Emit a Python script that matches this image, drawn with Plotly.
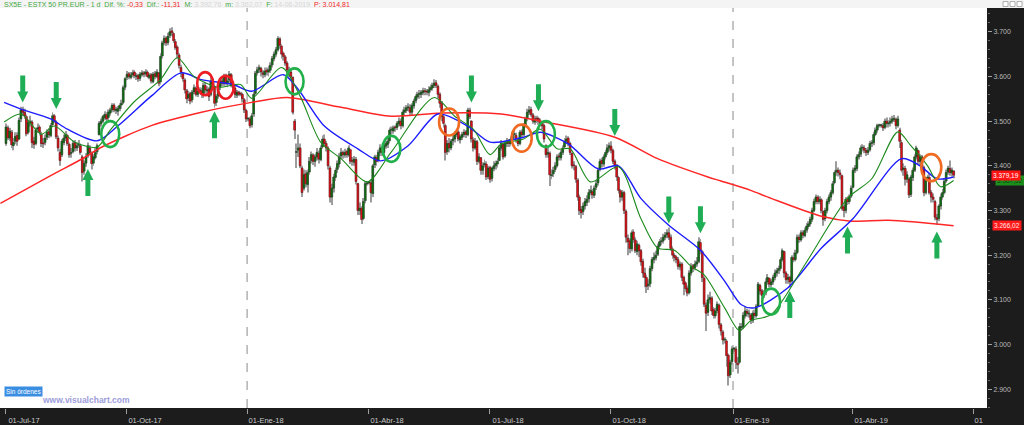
import pandas as pd
import plotly.graph_objects as go

# ---------------- daily OHLC (one line per week, Mon..Fri), from 2017-07-03 ----------------
first_day = "2017-07-03"

closes = [
    3487, 3463, 3478, 3447, 3452,  3466, 3455, 3502, 3525, 3520,  3512, 3472, 3497, 3500, 3452,
    3448, 3480, 3485, 3475, 3450,  3449, 3462, 3475, 3470, 3490,  3512, 3500, 3465, 3440, 3412,
    3455, 3462, 3470, 3450, 3425,  3430, 3450, 3440, 3445, 3448,  3430, 3385, 3405, 3420, 3445,
    3430, 3405, 3420, 3430, 3445,  3495, 3500, 3510, 3515, 3505,  3520, 3525, 3535, 3525, 3525,
    3528, 3535, 3540, 3575, 3595,  3605, 3600, 3603, 3608, 3602,  3600, 3595, 3605, 3608, 3605,
    3610, 3600, 3603, 3590, 3605,  3600, 3610, 3585, 3645, 3675,  3685, 3675, 3690, 3700, 3698,
    3680, 3665, 3650, 3625, 3610,  3595, 3570, 3550, 3560, 3545,  3565, 3575, 3560, 3567, 3570,
    3560, 3580, 3570, 3570, 3555,  3590, 3580, 3540, 3555, 3575,  3590, 3585, 3600, 3585, 3590,
    3605, 3580, 3575, 3560, 3565,  3560, 3560, 3550, 3525, 3505,  3505, 3490, 3512, 3560, 3607,
    3615, 3620, 3610, 3605, 3612,  3610, 3615, 3625, 3640, 3650,  3660, 3685, 3670, 3650, 3645,
    3630, 3615, 3610, 3600, 3520,  3480, 3430, 3440, 3400, 3340,  3380, 3360, 3385, 3410, 3425,
    3410, 3420, 3430, 3415, 3440,  3460, 3450, 3440, 3400, 3330,  3350, 3375, 3390, 3405, 3420,
    3430, 3425, 3430, 3425, 3440,  3410, 3410, 3415, 3365, 3300,  3305, 3280, 3320, 3360, 3362,
    3362, 3340, 3400, 3420, 3410,  3430, 3440, 3430, 3445, 3450,  3455, 3480, 3480, 3485, 3485,
    3495, 3500, 3490, 3520, 3525,  3530, 3530, 3520, 3535, 3545,  3555, 3560, 3560, 3565, 3568,
    3566, 3565, 3570, 3575, 3580,  3585, 3580, 3560, 3540, 3510,  3495, 3430, 3450, 3440, 3455,
    3460, 3470, 3475, 3460, 3465,  3470, 3475, 3470, 3525, 3510,  3460, 3440, 3455, 3410, 3420,
    3390, 3400, 3405, 3375, 3395,  3370, 3395, 3400, 3405, 3410,  3440, 3450, 3420, 3450, 3455,
    3450, 3460, 3470, 3470, 3460,  3450, 3475, 3470, 3490, 3505,  3520, 3525, 3515, 3500, 3505,
    3505, 3500, 3495, 3490, 3460,  3425, 3430, 3380, 3380, 3390,  3400, 3420, 3420, 3430, 3440,
    3455, 3460, 3450, 3430, 3400,  3400, 3370, 3330, 3300, 3295,  3310, 3320, 3325, 3340, 3345,
    3335, 3350, 3360, 3390, 3410,  3405, 3420, 3430, 3440, 3445,  3435, 3410, 3400, 3375, 3345,
    3330, 3340, 3300, 3240, 3230,  3215, 3250, 3235, 3210, 3225,  3210, 3185, 3160, 3150, 3130,
    3135, 3170, 3190, 3195, 3200,  3220, 3230, 3232, 3240, 3245,  3250, 3240, 3215, 3200, 3195,
    3190, 3175, 3180, 3150, 3135,  3125, 3115, 3160, 3175, 3170,  3180, 3185, 3230, 3210, 3150,
    3090, 3070, 3100, 3105, 3075,  3065, 3075, 3090, 3045, 3030,  3010, 3010, 2975, 2930, 2960,
    2990, 2990, 2960, 2955, 3040,  3040, 3065, 3075, 3070, 3070,  3055, 3070, 3065, 3085, 3135,
    3120, 3110, 3115, 3140, 3150,  3135, 3140, 3150, 3160, 3165,  3170, 3190, 3210, 3160, 3145,
    3150, 3140, 3195, 3190, 3205,  3240, 3235, 3250, 3245, 3255,  3265, 3270, 3280, 3300, 3320,
    3330, 3320, 3325, 3300, 3280,  3300, 3320, 3330, 3340, 3360,  3385, 3390, 3385, 3380, 3305,
    3300, 3325, 3320, 3330, 3350,  3390, 3395, 3420, 3425, 3440,  3440, 3435, 3430, 3435, 3450,
    3450, 3470, 3480, 3490, 3490,  3490, 3485, 3500, 3495, 3495,  3500, 3505, 3505, 3490, 3505,
    3455, 3390, 3395, 3370, 3380,  3335, 3375, 3390, 3420, 3440,  3410, 3420, 3395, 3340, 3370,
    3375, 3340, 3330, 3325, 3285,  3280, 3310, 3330, 3340, 3365,  3385, 3395, 3385, 3390.5, 3379.19,
]

opens = [
    3450, 3485, 3462, 3475, 3445,  3455, 3468, 3460, 3505, 3526,  3520, 3510, 3475, 3496, 3498,
    3455, 3450, 3482, 3487, 3470,  3450, 3452, 3464, 3476, 3468,  3492, 3512, 3498, 3462, 3430,
    3425, 3452, 3462, 3468, 3448,  3428, 3432, 3452, 3440, 3446,  3445, 3420, 3388, 3406, 3422,
    3440, 3428, 3406, 3418, 3432,  3470, 3494, 3500, 3508, 3514,  3508, 3518, 3526, 3536, 3524,
    3522, 3528, 3536, 3542, 3576,  3598, 3606, 3598, 3604, 3610,  3600, 3602, 3596, 3604, 3608,
    3606, 3610, 3598, 3604, 3588,  3606, 3600, 3608, 3588, 3646,  3676, 3686, 3676, 3692, 3702,
    3696, 3678, 3666, 3648, 3620,  3606, 3592, 3568, 3552, 3562,  3548, 3566, 3574, 3560, 3566,
    3568, 3560, 3580, 3568, 3572,  3560, 3590, 3578, 3542, 3556,  3576, 3590, 3584, 3602, 3584,
    3592, 3604, 3580, 3574, 3558,  3565, 3562, 3560, 3548, 3524,  3505, 3505, 3492, 3516, 3562,
    3608, 3616, 3618, 3608, 3604,  3614, 3610, 3614, 3626, 3640,  3650, 3660, 3684, 3668, 3652,
    3644, 3630, 3614, 3610, 3598,  3500, 3430, 3435, 3440, 3395,  3350, 3382, 3358, 3386, 3412,
    3424, 3410, 3420, 3428, 3414,  3442, 3460, 3450, 3440, 3395,  3330, 3350, 3374, 3392, 3404,
    3422, 3430, 3424, 3432, 3424,  3436, 3412, 3408, 3414, 3360,  3300, 3305, 3282, 3322, 3360,
    3362, 3362, 3338, 3402, 3418,  3412, 3430, 3440, 3430, 3444,  3448, 3456, 3480, 3478, 3486,
    3486, 3494, 3500, 3490, 3520,  3524, 3530, 3530, 3520, 3534,  3546, 3554, 3560, 3560, 3564,
    3568, 3566, 3564, 3570, 3574,  3580, 3586, 3578, 3560, 3540,  3510, 3490, 3432, 3450, 3440,
    3456, 3460, 3470, 3476, 3458,  3464, 3470, 3476, 3470, 3524,  3500, 3458, 3440, 3454, 3410,
    3418, 3390, 3402, 3404, 3376,  3396, 3372, 3394, 3400, 3404,  3412, 3440, 3448, 3422, 3450,
    3454, 3450, 3460, 3470, 3468,  3458, 3450, 3476, 3470, 3490,  3506, 3520, 3526, 3514, 3498,
    3506, 3506, 3500, 3496, 3490,  3445, 3426, 3428, 3378, 3382,  3392, 3400, 3422, 3418, 3430,
    3442, 3455, 3462, 3450, 3428,  3402, 3398, 3368, 3330, 3302,  3298, 3310, 3318, 3326, 3340,
    3342, 3334, 3352, 3362, 3392,  3412, 3404, 3420, 3430, 3440,  3444, 3434, 3410, 3400, 3374,
    3344, 3330, 3340, 3298, 3238,  3232, 3214, 3252, 3234, 3208,  3222, 3210, 3186, 3160, 3150,
    3132, 3136, 3170, 3190, 3194,  3202, 3220, 3230, 3232, 3240,  3246, 3250, 3240, 3214, 3200,
    3196, 3190, 3174, 3180, 3150,  3138, 3126, 3116, 3160, 3176,  3172, 3180, 3186, 3228, 3208,
    3148, 3088, 3072, 3100, 3104,  3078, 3064, 3076, 3088, 3044,  3028, 3010, 3008, 2976, 2932,
    2962, 2990, 2990, 2958, 2960,  3038, 3040, 3064, 3074, 3068,  3066, 3054, 3070, 3064, 3086,
    3132, 3120, 3110, 3116, 3140,  3148, 3134, 3140, 3150, 3160,  3166, 3170, 3190, 3208, 3160,
    3146, 3150, 3142, 3194, 3190,  3206, 3240, 3234, 3250, 3244,  3256, 3264, 3270, 3280, 3300,
    3320, 3330, 3320, 3324, 3298,  3282, 3300, 3320, 3330, 3340,  3362, 3386, 3390, 3384, 3378,
    3308, 3300, 3326, 3320, 3332,  3352, 3390, 3394, 3420, 3426,  3440, 3440, 3434, 3430, 3436,
    3450, 3452, 3470, 3480, 3490,  3490, 3490, 3486, 3500, 3494,  3496, 3500, 3504, 3504, 3490,
    3480, 3452, 3392, 3394, 3370,  3370, 3336, 3374, 3390, 3420,  3434, 3410, 3420, 3396, 3340,
    3372, 3374, 3340, 3330, 3320,  3284, 3282, 3310, 3330, 3340,  3366, 3386, 3394, 3384, 3388,
]

highs = [
    3495, 3490, 3485, 3480, 3462,  3475, 3475, 3508, 3532, 3532,  3528, 3515, 3503, 3512, 3502,
    3465, 3486, 3495, 3492, 3476,  3462, 3470, 3482, 3484, 3496,  3520, 3516, 3502, 3468, 3438,
    3460, 3470, 3478, 3472, 3452,  3440, 3456, 3458, 3452, 3458,  3450, 3425, 3412, 3428, 3452,
    3446, 3432, 3426, 3440, 3450,  3500, 3506, 3514, 3522, 3520,  3526, 3530, 3540, 3540, 3532,
    3534, 3540, 3548, 3580, 3598,  3612, 3610, 3610, 3615, 3614,  3608, 3606, 3610, 3614, 3612,
    3616, 3614, 3608, 3608, 3610,  3612, 3616, 3610, 3652, 3680,  3692, 3690, 3698, 3708, 3710,
    3700, 3684, 3670, 3652, 3626,  3610, 3596, 3572, 3568, 3566,  3570, 3582, 3578, 3572, 3576,
    3575, 3586, 3588, 3578, 3576,  3600, 3595, 3582, 3560, 3580,  3596, 3596, 3606, 3606, 3598,
    3612, 3608, 3586, 3580, 3570,  3568, 3566, 3564, 3552, 3528,  3508, 3510, 3518, 3566, 3612,
    3622, 3626, 3622, 3614, 3620,  3620, 3624, 3632, 3646, 3656,  3666, 3690, 3688, 3672, 3656,
    3648, 3634, 3622, 3615, 3600,  3505, 3450, 3470, 3450, 3400,  3392, 3390, 3392, 3420, 3432,
    3428, 3426, 3440, 3434, 3446,  3468, 3470, 3456, 3444, 3400,  3360, 3382, 3396, 3412, 3428,
    3440, 3434, 3438, 3436, 3446,  3438, 3420, 3422, 3420, 3362,  3318, 3310, 3328, 3366, 3366,
    3366, 3370, 3404, 3425, 3424,  3436, 3448, 3444, 3450, 3456,  3462, 3486, 3488, 3490, 3490,
    3500, 3508, 3506, 3526, 3532,  3536, 3540, 3538, 3540, 3550,  3560, 3566, 3570, 3570, 3575,
    3574, 3572, 3578, 3582, 3586,  3594, 3592, 3582, 3564, 3545,  3515, 3494, 3458, 3462, 3460,
    3468, 3478, 3482, 3480, 3470,  3476, 3482, 3480, 3530, 3530,  3502, 3464, 3462, 3458, 3428,
    3420, 3408, 3414, 3410, 3400,  3400, 3398, 3410, 3412, 3418,  3446, 3458, 3452, 3456, 3462,
    3460, 3466, 3476, 3480, 3474,  3462, 3480, 3482, 3496, 3510,  3528, 3534, 3532, 3518, 3512,
    3512, 3510, 3506, 3500, 3494,  3448, 3440, 3432, 3392, 3398,  3408, 3426, 3428, 3436, 3446,
    3462, 3468, 3466, 3454, 3430,  3410, 3402, 3372, 3336, 3310,  3318, 3328, 3334, 3348, 3356,
    3348, 3356, 3368, 3396, 3416,  3418, 3426, 3436, 3448, 3452,  3455, 3438, 3414, 3404, 3378,
    3348, 3346, 3344, 3302, 3246,  3238, 3256, 3258, 3240, 3232,  3226, 3214, 3192, 3172, 3156,
    3146, 3176, 3196, 3206, 3210,  3226, 3236, 3240, 3248, 3252,  3258, 3262, 3246, 3220, 3205,
    3200, 3196, 3186, 3184, 3154,  3142, 3132, 3166, 3182, 3180,  3188, 3196, 3240, 3236, 3212,
    3152, 3094, 3112, 3118, 3108,  3084, 3082, 3096, 3092, 3048,  3032, 3016, 3012, 2980, 2966,
    2996, 2994, 2996, 2972, 3048,  3048, 3072, 3084, 3080, 3078,  3070, 3076, 3078, 3090, 3140,
    3136, 3124, 3122, 3148, 3158,  3150, 3146, 3156, 3168, 3172,  3176, 3196, 3215, 3210, 3164,
    3158, 3154, 3200, 3206, 3212,  3246, 3246, 3256, 3256, 3262,  3272, 3276, 3286, 3306, 3326,
    3336, 3334, 3332, 3328, 3300,  3306, 3326, 3336, 3346, 3366,  3390, 3410, 3396, 3392, 3380,
    3312, 3330, 3332, 3336, 3356,  3396, 3402, 3426, 3432, 3446,  3448, 3446, 3440, 3442, 3456,
    3458, 3476, 3486, 3494, 3494,  3494, 3496, 3506, 3508, 3502,  3508, 3512, 3514, 3508, 3512,
    3485, 3458, 3406, 3400, 3388,  3374, 3380, 3396, 3426, 3445,  3436, 3426, 3424, 3400, 3374,
    3380, 3382, 3346, 3338, 3324,  3292, 3314, 3338, 3348, 3372,  3392, 3400, 3412, 3396, 3390,
]

lows = [
    3445, 3458, 3455, 3440, 3435,  3448, 3445, 3458, 3498, 3512,  3505, 3466, 3470, 3488, 3440,
    3438, 3446, 3474, 3468, 3442,  3440, 3446, 3458, 3462, 3464,  3488, 3496, 3460, 3432, 3400,
    3420, 3446, 3455, 3445, 3418,  3418, 3428, 3432, 3433, 3440,  3425, 3365, 3380, 3398, 3418,
    3424, 3392, 3400, 3414, 3426,  3468, 3488, 3496, 3502, 3498,  3502, 3512, 3520, 3520, 3516,
    3512, 3522, 3528, 3538, 3570,  3592, 3594, 3594, 3598, 3596,  3592, 3588, 3590, 3600, 3598,
    3600, 3596, 3594, 3584, 3585,  3594, 3596, 3578, 3582, 3640,  3670, 3668, 3670, 3686, 3690,
    3675, 3660, 3640, 3618, 3598,  3588, 3562, 3540, 3545, 3538,  3542, 3560, 3555, 3554, 3562,
    3552, 3552, 3562, 3558, 3545,  3556, 3574, 3530, 3534, 3550,  3570, 3578, 3578, 3580, 3576,
    3586, 3576, 3568, 3552, 3552,  3556, 3556, 3542, 3518, 3498,  3500, 3484, 3486, 3510, 3558,
    3602, 3608, 3600, 3596, 3598,  3602, 3600, 3608, 3620, 3634,  3644, 3656, 3662, 3640, 3636,
    3624, 3606, 3598, 3592, 3515,  3460, 3395, 3420, 3395, 3330,  3345, 3352, 3340, 3380, 3405,
    3402, 3398, 3412, 3405, 3410,  3438, 3444, 3432, 3392, 3318,  3312, 3340, 3366, 3384, 3396,
    3416, 3416, 3418, 3418, 3420,  3404, 3400, 3400, 3358, 3290,  3290, 3270, 3278, 3316, 3356,
    3358, 3318, 3330, 3395, 3400,  3408, 3422, 3422, 3424, 3438,  3440, 3450, 3470, 3472, 3476,
    3480, 3488, 3482, 3486, 3514,  3518, 3522, 3512, 3514, 3528,  3540, 3548, 3550, 3552, 3558,
    3558, 3558, 3556, 3564, 3568,  3574, 3574, 3552, 3530, 3500,  3486, 3412, 3425, 3430, 3435,
    3446, 3452, 3464, 3455, 3450,  3458, 3464, 3462, 3466, 3505,  3452, 3432, 3436, 3402, 3405,
    3380, 3380, 3396, 3368, 3370,  3362, 3365, 3388, 3392, 3396,  3410, 3434, 3414, 3418, 3442,
    3442, 3444, 3454, 3462, 3452,  3444, 3446, 3464, 3466, 3486,  3500, 3514, 3510, 3494, 3492,
    3496, 3492, 3488, 3482, 3452,  3418, 3418, 3355, 3370, 3375,  3386, 3396, 3412, 3412, 3424,
    3440, 3448, 3444, 3424, 3394,  3390, 3362, 3322, 3290, 3282,  3290, 3302, 3310, 3318, 3334,
    3326, 3328, 3346, 3356, 3388,  3396, 3398, 3414, 3424, 3432,  3428, 3404, 3392, 3366, 3338,
    3318, 3322, 3292, 3228, 3200,  3204, 3208, 3228, 3205, 3200,  3196, 3176, 3150, 3128, 3115,
    3122, 3128, 3164, 3182, 3188,  3198, 3214, 3222, 3226, 3234,  3238, 3234, 3210, 3192, 3186,
    3182, 3168, 3166, 3142, 3110,  3118, 3108, 3112, 3154, 3162,  3166, 3174, 3182, 3202, 3140,
    3084, 3030, 3064, 3092, 3066,  3058, 3058, 3070, 3036, 3020,  3000, 3002, 2950, 2908, 2925,
    2955, 2984, 2945, 2935, 2956,  3030, 3034, 3058, 3062, 3060,  3046, 3048, 3058, 3060, 3084,
    3112, 3100, 3104, 3110, 3134,  3128, 3128, 3134, 3144, 3152,  3158, 3164, 3186, 3150, 3136,
    3136, 3128, 3138, 3184, 3186,  3202, 3228, 3230, 3238, 3240,  3250, 3258, 3264, 3274, 3296,
    3314, 3314, 3314, 3294, 3266,  3276, 3294, 3314, 3322, 3336,  3358, 3378, 3376, 3370, 3300,
    3285, 3294, 3312, 3314, 3328,  3350, 3384, 3388, 3414, 3420,  3432, 3428, 3422, 3424, 3432,
    3442, 3446, 3466, 3474, 3486,  3486, 3478, 3482, 3486, 3486,  3488, 3494, 3498, 3482, 3486,
    3440, 3385, 3378, 3356, 3362,  3328, 3330, 3366, 3386, 3414,  3404, 3402, 3388, 3332, 3336,
    3366, 3336, 3318, 3318, 3278,  3268, 3276, 3302, 3324, 3336,  3362, 3380, 3378, 3376, 3372,
]

# ---------------- moving averages (bar index, value) ----------------
ma_red_idx = [-3, 24, 42, 51, 78, 105, 132, 151, 180, 207, 234, 266, 287, 327, 350, 377, 384, 400, 411, 438, 454, 474, 509]
ma_red_val = [3316, 3378, 3418, 3441, 3490, 3520, 3542, 3553, 3531, 3511, 3518, 3516, 3500, 3464, 3416, 3375, 3366, 3345, 3327, 3287, 3276, 3278, 3266.02]

ma_blue_idx = [-1, 8, 24, 33, 49, 60, 78, 94, 105, 122, 132, 149, 157, 171, 189, 201, 216, 232, 248, 260, 278, 287,
               302, 318, 329, 341, 356, 373, 386, 395, 402, 420, 438, 455, 481, 491, 500, 509]
ma_blue_val = [3542, 3527, 3505, 3482, 3456, 3489, 3556, 3608, 3593, 3582, 3567, 3604, 3571, 3489, 3438, 3411, 3445, 3516, 3489, 3453, 3464, 3475,
               3449, 3393, 3400, 3327, 3267, 3211, 3142, 3089, 3082, 3127, 3216, 3282, 3416, 3400, 3371, 3375]

ma_green_idx = [-1, 8, 19, 26, 37, 49, 56, 69, 83, 92, 101, 114, 126, 132, 148, 158, 169, 180, 194, 207, 230, 241, 251, 260, 266,
                278, 287, 296, 303, 314, 329, 341, 350, 359, 368, 375, 386, 394, 400, 411, 429, 452, 465, 479, 486, 495, 502, 509]
ma_green_val = [3498, 3516, 3471, 3489, 3453, 3442, 3480, 3544, 3593, 3642, 3600, 3576, 3582, 3551, 3620, 3556, 3453, 3416, 3364, 3431, 3553, 3511, 3482, 3425, 3449,
                3460, 3482, 3438, 3438, 3364, 3398, 3282, 3216, 3211, 3175, 3156, 3082, 3031, 3053, 3067, 3178, 3327, 3371, 3476, 3445, 3400, 3353, 3367]

# ---------------- markup: arrows and circles (bar index of tip / centre, value) ----------------
arrow_down_idx = [9, 27, 250, 286, 327, 356, 373]
arrow_down_val = [3542, 3527, 3542, 3522, 3467, 3271, 3249]
arrow_up_idx = [44, 112, 421, 452, 500]
arrow_up_val = [3393, 3522, 3120, 3264, 3253]

circle_idx = [56, 155, 207, 290, 411, 107, 118, 238, 277, 497]
circle_val = [3471, 3589, 3438, 3471, 3096, 3584, 3576, 3498, 3462, 3396]
circle_kind = ["green", "green", "green", "green", "green", "red", "red", "orange", "orange", "orange"]

# ---------------- axes ----------------
y_tickvals = [2900, 3000, 3100, 3200, 3300, 3400, 3500, 3600, 3700]
y_ticktext = ["2.900", "3.000", "3.100", "3.200", "3.300", "3.400", "3.500", "3.600", "3.700"]
x_tickdates = ["2017-07-01", "2017-10-01", "2018-01-01", "2018-04-01", "2018-07-01",
               "2018-10-01", "2019-01-01", "2019-04-01", "2019-07-01"]
x_ticktext = ["01-Jul-17", "01-Oct-17", "01-Ene-18", "01-Abr-18", "01-Jul-18",
              "01-Oct-18", "01-Ene-19", "01-Abr-19", "01" + "\u00a0" * 13]
year_lines = ["2018-01-01", "2019-01-01"]

start = pd.Timestamp(first_day)
dates = pd.bdate_range(first_day, periods=len(closes)) + pd.Timedelta(hours=12)
# month starts falling on a weekend are shown at the next session (weekends are removed from the axis)
x_tickvals = [pd.Timestamp(d) + pd.offsets.BDay(0) for d in x_tickdates]


def bar_date(i):
    return start + pd.offsets.BDay(int(i)) + pd.Timedelta(hours=12)


rising = [c >= o for o, c in zip(opens, closes)]
body_base = [min(o, c) for o, c in zip(opens, closes)]
body_len = [max(abs(c - o), 2) for o, c in zip(opens, closes)]
wick_len = [h - l for h, l in zip(highs, lows)]
body_col = ["#0c730f" if r else "#e51219" for r in rising]
body_edge = ["#213b21" if r else "#5e1414" for r in rising]
DAY_MS = 86400000

fig = go.Figure()
# wicks (grey)
fig.add_trace(go.Bar(
    x=dates, y=wick_len, base=lows, width=DAY_MS * 0.5,
    marker=dict(color="#9c9c9c", line=dict(width=0)),
    hoverinfo="skip", showlegend=False,
))
# candle bodies
fig.add_trace(go.Bar(
    x=dates, y=body_len, base=body_base, width=DAY_MS * 1.0,
    marker=dict(color=body_col, line=dict(color=body_edge, width=0.6)),
    hoverinfo="skip", showlegend=False,
))
for idx, val, col, w in [(ma_red_idx, ma_red_val, "#ff2626", 1.5),
                         (ma_blue_idx, ma_blue_val, "#1c1cff", 1.4),
                         (ma_green_idx, ma_green_val, "#1d8a1d", 1.1)]:
    fig.add_trace(go.Scatter(x=[bar_date(i) for i in idx], y=val, mode="lines",
                             line=dict(color=col, width=w, shape="spline", smoothing=0.8),
                             hoverinfo="skip", showlegend=False))

shapes = []
# top strip
shapes.append(dict(type="rect", xref="paper", yref="paper", x0=0, x1=1.04, y0=1, y1=1.03,
                   fillcolor="#f4f4f4", line=dict(width=0)))
# window buttons
for k in range(3):
    x0 = (1003 + 7 * k) / 987
    shapes.append(dict(type="rect", xref="paper", yref="paper", x0=x0, x1=x0 + 5 / 987,
                       y0=1 + 1.5 / 403, y1=1 + 6.5 / 403, fillcolor="white",
                       line=dict(color="#9a9a9a", width=0.8)))
for d in year_lines:
    shapes.append(dict(type="line", xref="x", yref="paper", x0=d, x1=d, y0=0, y1=1, layer="below",
                       line=dict(color="#8a8a8a", width=1, dash="dash")))

arrow_color = "#1fae55"
down_path = "M0,0 L5.5,11 L2.5,11 L2.5,27 L-2.5,27 L-2.5,11 L-5.5,11 Z"
up_path = "M0,0 L5.5,-11 L2.5,-11 L2.5,-27 L-2.5,-27 L-2.5,-11 L-5.5,-11 Z"
for i, v in zip(arrow_down_idx, arrow_down_val):
    shapes.append(dict(type="path", xref="x", yref="y", xsizemode="pixel", ysizemode="pixel",
                       xanchor=bar_date(i), yanchor=v, path=down_path,
                       fillcolor=arrow_color, line=dict(width=0)))
for i, v in zip(arrow_up_idx, arrow_up_val):
    shapes.append(dict(type="path", xref="x", yref="y", xsizemode="pixel", ysizemode="pixel",
                       xanchor=bar_date(i), yanchor=v, path=up_path,
                       fillcolor=arrow_color, line=dict(width=0)))

circle_style = {"green": ("#22b04a", 18, 26), "red": ("#ec1c24", 16, 23), "orange": ("#f06a22", 20, 27)}
for i, v, kind in zip(circle_idx, circle_val, circle_kind):
    col, w, h = circle_style[kind]
    shapes.append(dict(type="circle", xref="x", yref="y", xsizemode="pixel", ysizemode="pixel",
                       xanchor=bar_date(i), yanchor=v, x0=-w / 2, x1=w / 2, y0=-h / 2, y1=h / 2,
                       line=dict(color=col, width=2.6)))

# small blue marker on the price scale
shapes.append(dict(type="rect", xref="paper", yref="y", x0=1003 / 987, x1=1007 / 987,
                   y0=3362, y1=3367, fillcolor="#2a2aff", line=dict(width=0)))

G = "#3fa83f"
R = "#f02828"
F = "#d6d6d6"
header = (f"<span style='color:{G}'>SX5E - ESTX 50 PR.EUR - 1 d&nbsp;&nbsp;Dif. %: </span>"
          f"<span style='color:{R}'>-0,33</span>"
          f"<span style='color:{G}'>&nbsp;&nbsp;Dif.: </span><span style='color:{R}'>-11,31</span>"
          f"<span style='color:{G}'>&nbsp;&nbsp;M: </span><span style='color:{F}'>3.392,76</span>"
          f"<span style='color:{G}'>&nbsp;&nbsp;m: </span><span style='color:{F}'>3.362,07</span>"
          f"<span style='color:{G}'>&nbsp;&nbsp;F: </span><span style='color:{F}'>14-06-2019</span>"
          f"<span style='color:{R}'>&nbsp;&nbsp;P: 3.014,81</span>")

annotations = [
    dict(text=header, xref="paper", yref="paper", x=2 / 987, y=1 + 3.5 / 403, xanchor="left",
         yanchor="middle", showarrow=False, font=dict(size=7, family="Liberation Sans")),
    dict(text="Sin órdenes", xref="paper", yref="paper", x=4 / 987, y=1 - (394.5 - 8) / 403,
         xanchor="left", yanchor="middle", showarrow=False, bgcolor="#3a8ee2", borderpad=1,
         font=dict(size=6.5, color="white", family="Liberation Sans")),
    dict(text="<b>www.visualchart.com</b>", xref="paper", yref="paper", x=40 / 987, y=1 - (403 - 8) / 403,
         xanchor="left", yanchor="middle", showarrow=False,
         font=dict(size=8.5, color="#9d9ddb", family="Liberation Sans")),
    dict(text="3.367,52", xref="paper", yref="y", x=995 / 987, y=3367, xanchor="left", yanchor="middle",
         showarrow=False, bgcolor="#1d8f1d", borderpad=1,
         font=dict(size=6.5, color="#0c4a0c", family="Liberation Sans")),
    dict(text="3.379,19", xref="paper", yref="y", x=991 / 987, y=3379.19, xanchor="left", yanchor="middle",
         showarrow=False, bgcolor="#ff1414", borderpad=1,
         font=dict(size=6.5, color="white", family="Liberation Sans")),
    dict(text="3.266,02", xref="paper", yref="y", x=992 / 987, y=3266.02, xanchor="left", yanchor="middle",
         showarrow=False, bgcolor="#ff1a1a", borderpad=1,
         font=dict(size=6.5, color="#ffe4e4", family="Liberation Sans")),
]

fig.update_layout(
    width=1024, height=425, autosize=False,
    margin=dict(l=0, r=37, t=8, b=14, pad=0),
    paper_bgcolor="#1c1c1c", plot_bgcolor="white",
    shapes=shapes, annotations=annotations, showlegend=False,
    font=dict(family="Liberation Sans"), barmode="overlay",
)
fig.update_xaxes(
    type="date",
    range=[bar_date(-3) - pd.Timedelta(hours=5), bar_date(527) - pd.Timedelta(hours=2)],
    rangebreaks=[dict(bounds=["sat", "mon"])],
    tickmode="array", tickvals=x_tickvals, ticktext=x_ticktext,
    ticks="outside", ticklen=5, tickcolor="#a0a0a0", tickwidth=1,
    ticklabelshift=19,
    tickfont=dict(size=7.5, color="#c8c8c8", family="Liberation Sans"),
    showgrid=False, zeroline=False, showline=False,
)
fig.update_yaxes(
    side="right", range=[2857.8, 3753.3],
    tickmode="array", tickvals=y_tickvals, ticktext=y_ticktext,
    ticks="outside", ticklen=4, tickcolor="#a0a0a0",
    minor=dict(tickmode="linear", tick0=2900, dtick=20, ticks="outside", ticklen=2, tickcolor="#707070"),
    tickfont=dict(size=7, color="#b8b8b8", family="Liberation Sans"),
    showgrid=False, zeroline=False, showline=False,
)

fig.write_html("out.html", config={"displayModeBar": False},
               post_script="document.body.style.margin='0px';document.body.style.overflow='hidden';")
